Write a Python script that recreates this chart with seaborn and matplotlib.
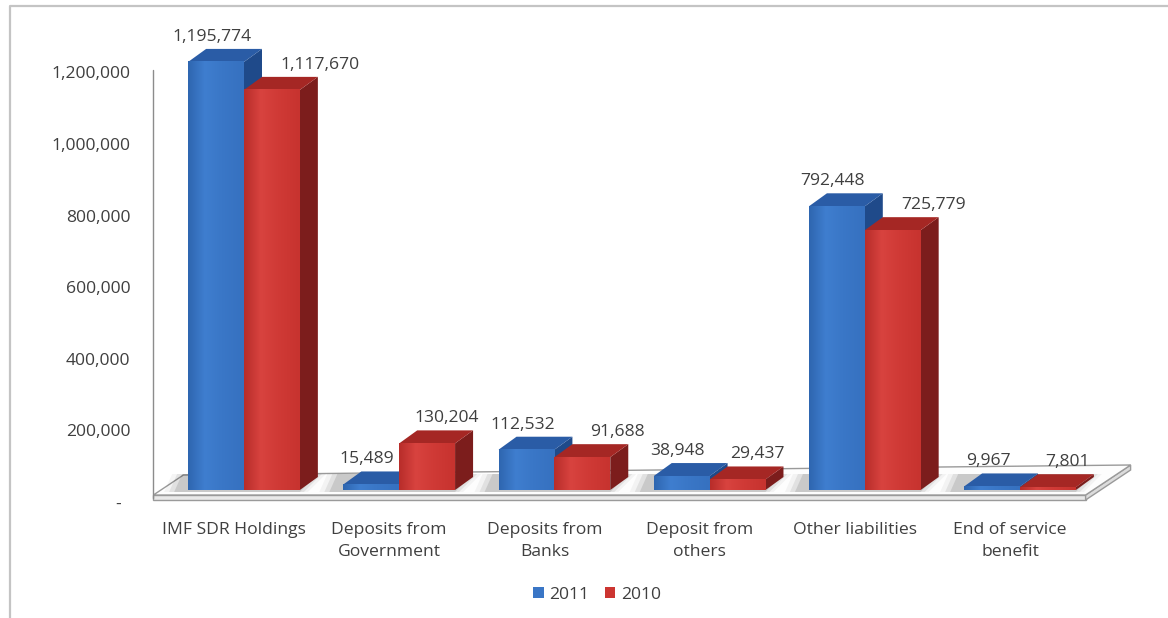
import numpy as np
import pandas as pd
import matplotlib
matplotlib.use("Agg")
import matplotlib.pyplot as plt
import seaborn as sns
from matplotlib.patches import Polygon, Patch
from matplotlib.lines import Line2D
from matplotlib.transforms import IdentityTransform, ScaledTranslation
import matplotlib.colors as mcolors

# ---- data -------------------------------------------------------------
categories = ["IMF SDR Holdings", "Deposits from\nGovernment", "Deposits from\nBanks",
              "Deposit from\nothers", "Other liabilities", "End of service\nbenefit"]
years = ["2011", "2010"]
values_2011 = [1195774, 15489, 112532, 38948, 792448, 9967]
values_2010 = [1117670, 130204, 91688, 29437, 725779, 7801]
y_ticks = [0, 200000, 400000, 600000, 800000, 1000000, 1200000]
y_tick_labels = ["-  ", "200,000", "400,000", "600,000", "800,000", "1,000,000", "1,200,000"]

# ---- styling ----------------------------------------------------------
W, H = 1168, 618
DPI = 100
TEXT = "#3f3f3f"
FS = 12.6
front = {"2011": "#3a76c6", "2010": "#cc3531"}
top_c = {"2011": "#2a5ca6", "2010": "#a52724"}
side_c = {"2011": "#1f4a8a", "2010": "#7c1d1c"}
grad = {"2011": ["#2e66b0", "#3f7ecf", "#3a77c7", "#3671c0"],
        "2010": ["#b82d2a", "#d8433f", "#d03a36", "#c7332f"]}
DX, DY = 18, 13          # depth offset of the bar boxes, in pixels
LABEL_SHIFT = {"2011": -4, "2010": 20}   # horizontal nudge of value labels, pixels

sns.set_theme(style="white")
plt.rcParams["font.family"] = ["Open Sans", "DejaVu Sans"]

fig = plt.figure(figsize=(W / DPI, H / DPI), dpi=DPI)
fig.patch.set_facecolor("white")

px_per_unit = 358e-6     # vertical pixels per value unit
y_max = 1.3e6
ax_left, ax_right = 166.4, 1097.6
ax_bottom = 128
ax = fig.add_axes([ax_left / W, ax_bottom / H, (ax_right - ax_left) / W, y_max * px_per_unit / H])
ax.set_facecolor("none")

df = pd.DataFrame({
    "category": categories * 2,
    "year": [years[0]] * len(categories) + [years[1]] * len(categories),
    "value": values_2011 + values_2010,
})

sns.barplot(data=df, x="category", y="value", hue="year", hue_order=years,
            palette=[front[y] for y in years], width=0.72, saturation=1,
            edgecolor="none", linewidth=0, legend=False, ax=ax)

ax.set_autoscale_on(False)
ax.set_xlim(-0.5, len(categories) - 0.5)
ax.set_ylim(0, y_max)
for s in ax.spines.values():
    s.set_visible(False)
ax.set_xlabel("")
ax.set_ylabel("")
ax.grid(False)

# ---- axis ticks -------------------------------------------------------
ax.set_yticks(y_ticks)
ax.set_yticklabels(y_tick_labels)
ax.tick_params(axis="y", length=0, pad=26, labelsize=FS, labelcolor=TEXT)
for lab in ax.get_yticklabels():
    lab.set_transform(lab.get_transform() + ScaledTranslation(0, -12 / DPI, fig.dpi_scale_trans))

ax.set_xticks(range(len(categories)))
ax.set_xticklabels(categories, linespacing=1.5)
ax.tick_params(axis="x", length=0, pad=23, labelsize=FS, labelcolor=TEXT)
for lab in ax.get_xticklabels():
    lab.set_transform(lab.get_transform() + ScaledTranslation(-10 / DPI, 0, fig.dpi_scale_trans))

fig.canvas.draw()
T = ax.transData
PIX = IdentityTransform()


def disp(x, y):
    return T.transform((x, y))


def add_poly(pts, z, **kw):
    p = Polygon(pts, closed=True, transform=PIX, zorder=z, clip_on=False, **kw)
    ax.add_artist(p)
    return p


# ---- floor (pixels, under the bars) --------------------------------------
X_l, Y0 = disp(-0.5, 0)
X_r, _ = disp(len(categories) - 0.5, 0)
fl = (X_l - 13, Y0 - 5)            # front-left top
fr = (X_r - 12, Y0 - 5)            # front-right top
bl = (fl[0] + 30, fl[1] + 20)      # back-left
br = (fr[0] + 45, fr[1] + 30)      # back-right
add_poly([fl, fr, (fr[0], fr[1] - 5), (fl[0], fl[1] - 5)], 0.5,
         facecolor="#e9e9e9", edgecolor="#9a9a9a", linewidth=1.0)
add_poly([fr, br, (br[0], br[1] - 5), (fr[0], fr[1] - 5)], 0.5,
         facecolor="#dcdcdc", edgecolor="#9a9a9a", linewidth=1.0)
add_poly([fl, fr, br, bl], 0.5, facecolor="#fdfdfd", edgecolor="#9a9a9a", linewidth=1.0)

# soft shadows on the floor at the base of each group
for i in range(len(categories)):
    xa, ya = disp(i - 0.36, 0)
    xb, _ = disp(i + 0.36, 0)
    for k, a in enumerate([0.10, 0.07, 0.04]):
        add_poly([(xa - 14 - 5 * k, ya - 2), (xb + 4 * k, ya - 2),
                  (xb + DX + 4 * k, ya + DY + 3), (xa - 6 - 5 * k, ya + DY + 3)],
                 0.6, facecolor="black", alpha=a, edgecolor="none")

# vertical axis line
y_top_line = disp(0, y_ticks[-1])[1] - 12 + 2
ax.add_artist(Line2D([fl[0], fl[0]], [fl[1] - 3, y_top_line], color="#8c8c8c",
                     linewidth=1.0, transform=PIX, zorder=0.7, clip_on=False))

# ---- 3D boxes: front gradient, top and side faces ------------------------
n = len(categories)
anchors = np.array([0.0, 0.3, 0.6, 1.0])
xs = np.linspace(0, 1, 64)
boxes = []
labels = []
for idx, bar in enumerate(ax.patches[: 2 * n]):
    yr = years[idx // n]
    z = 2 + 2 * (idx % n) + (idx // n)
    x0 = bar.get_x()
    w = bar.get_width()
    h = bar.get_height()
    bar.set_zorder(z)
    g = np.array([mcolors.to_rgb(c) for c in grad[yr]])
    img = np.stack([np.interp(xs, anchors, g[:, c]) for c in range(3)], axis=-1)[None, :, :]
    ax.imshow(img, extent=[x0, x0 + w, 0, h], aspect="auto", zorder=z + 0.05,
              interpolation="bilinear")
    (X0, Yb), (X1, Yt) = disp(x0, 0), disp(x0 + w, h)
    add_poly([(X1, Yb), (X1, Yt), (X1 + DX, Yt + DY), (X1 + DX, Yb + DY)], z - 0.1,
             facecolor=side_c[yr], edgecolor="none")
    add_poly([(X0, Yt), (X1, Yt), (X1 + DX, Yt + DY), (X0 + DX, Yt + DY)], z - 0.1,
             facecolor=top_c[yr], edgecolor="none")
    boxes.append((X0, X1 + DX, Yt + DY))
    ann = ax.annotate(f"{int(h):,}", xy=(x0 + w / 2, h),
                      xytext=(LABEL_SHIFT[yr] * 72 / DPI, (DY + 12) * 72 / DPI),
                      textcoords="offset points", ha="center", va="center",
                      fontsize=FS, color=TEXT, zorder=40, annotation_clip=False)
    labels.append(ann)

# push a 2010 label clear of the neighbouring 2011 box when they collide
fig.canvas.draw()
renderer = fig.canvas.get_renderer()
for i in range(n):
    ann = labels[n + i]
    bx0, bx1, btop = boxes[i]
    bb = ann.get_window_extent(renderer)
    if bb.y0 < btop and bb.x0 < bx1 + 18:
        extra = (bx1 + 18) - bb.x0
        ox, oy = ann.xyann
        ann.xyann = (ox + extra * 72 / DPI, oy)

ax.set_xlim(-0.5, n - 0.5)
ax.set_ylim(0, y_max)

# ---- legend -------------------------------------------------------------
handles = [Patch(facecolor=front[y], edgecolor="none") for y in years]
fig.legend(handles, years, loc="center", bbox_to_anchor=(597 / W, 1 - 595 / H), ncol=2,
           frameon=False, handlelength=0.6, handleheight=0.6, handletextpad=0.3,
           columnspacing=0.9, fontsize=FS, labelcolor=TEXT)

# ---- outer frame ----------------------------------------------------------
fig.add_artist(Line2D([10, 10, W], [0, H - 6, H - 6], color="#c4c4c4", linewidth=1.6,
                      transform=PIX, zorder=50))

fig.savefig("out.png", dpi=DPI, facecolor="white")
